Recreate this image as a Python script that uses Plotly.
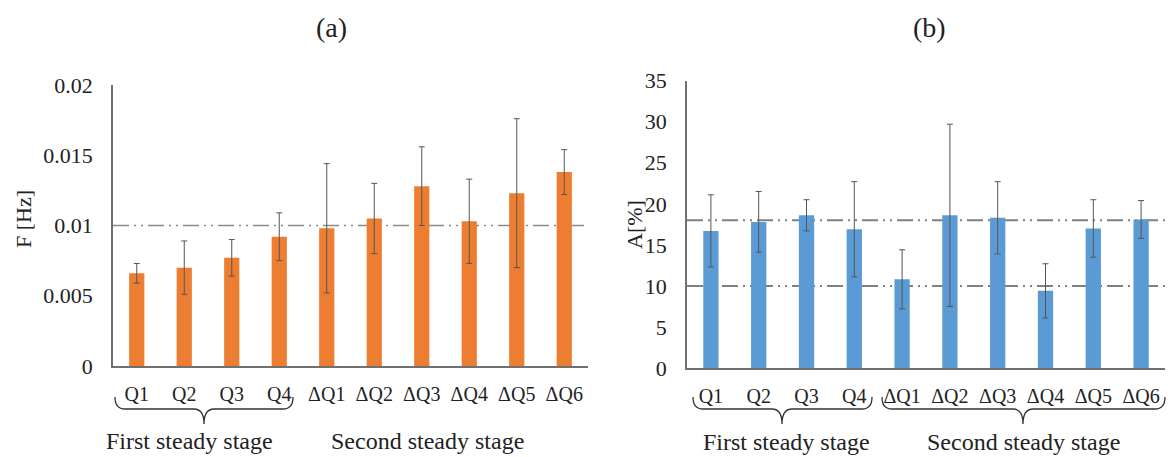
import plotly.graph_objects as go

W, H = 1168, 457

categories = ["Q1", "Q2", "Q3", "Q4", "ΔQ1", "ΔQ2", "ΔQ3", "ΔQ4", "ΔQ5", "ΔQ6"]

# (a) frequency F [Hz]
freq_values = [0.0066, 0.0070, 0.0077, 0.0092, 0.0098, 0.0105, 0.0128, 0.0103, 0.0123, 0.0138]
freq_errors = [0.0007, 0.0019, 0.0013, 0.0017, 0.0046, 0.0025, 0.0028, 0.0030, 0.0053, 0.0016]
freq_ref = [0.01]
freq_ticks = [0, 0.005, 0.01, 0.015, 0.02]
freq_ticktext = ["0", "0.005", "0.01", "0.015", "0.02"]

# (b) amplitude A [%]
amp_values = [16.7, 17.8, 18.6, 16.9, 10.8, 18.6, 18.3, 9.4, 17.0, 18.1]
amp_errors = [4.4, 3.7, 1.9, 5.8, 3.6, 11.1, 4.4, 3.3, 3.5, 2.3]
amp_ref = [18, 10]
amp_ticks = [0, 5, 10, 15, 20, 25, 30, 35]

stage_labels = ["First steady stage", "Second steady stage"]

FONT = "Liberation Serif, Times New Roman, serif"
TXT = "#222222"
AXC = "#707070"
ORANGE = "#ED7D31"
BLUE = "#5B9BD5"
ERRC = "#555555"


def px(x):
    return x / W


def py(y):
    return 1 - y / H


fig = go.Figure()

fig.add_trace(go.Bar(
    x=categories, y=freq_values, marker_color=ORANGE, marker_line_width=0, xaxis="x", yaxis="y",
    error_y=dict(type="data", array=freq_errors, visible=True, color=ERRC, thickness=1, width=3),
    showlegend=False,
))
fig.add_trace(go.Bar(
    x=categories, y=amp_values, marker_color=BLUE, marker_line_width=0, xaxis="x2", yaxis="y2",
    error_y=dict(type="data", array=amp_errors, visible=True, color=ERRC, thickness=1, width=3),
    showlegend=False,
))

dash = "16px,5px,2px,5px,2px,5px"
for v in freq_ref:
    fig.add_shape(type="line", xref="x domain", yref="y", x0=0, x1=1, y0=v, y1=v,
                  line=dict(color="#8a8a8a", width=1.5, dash=dash), layer="below")
for v in amp_ref:
    fig.add_shape(type="line", xref="x2 domain", yref="y2", x0=0, x1=1, y0=v, y1=v,
                  line=dict(color="#808080", width=2, dash=dash), layer="below")

# braces (pixel positions converted to paper coords)
def brace(x0, x1, xt, ytop=397, ymid=409, ytip=424):
    r = 10
    pts = (f"M {px(x0)},{py(ytop)} Q {px(x0)},{py(ymid)} {px(x0 + r)},{py(ymid)} "
           f"L {px(xt - r)},{py(ymid)} Q {px(xt)},{py(ymid)} {px(xt)},{py(ytip)} "
           f"Q {px(xt)},{py(ymid)} {px(xt + r)},{py(ymid)} "
           f"L {px(x1 - r)},{py(ymid)} Q {px(x1)},{py(ymid)} {px(x1)},{py(ytop)}")
    fig.add_shape(type="path", xref="paper", yref="paper", path=pts,
                  line=dict(color="#333333", width=1.3))

brace(115, 293, 204)
brace(693, 872, 782)
brace(882, 1165, 1023)

annots = [
    dict(text="(a)", x=px(331), y=py(27), size=28),
    dict(text="(b)", x=px(929), y=py(28), size=28),
    dict(text=stage_labels[0], x=px(189), y=py(441), size=24),
    dict(text=stage_labels[1], x=px(427), y=py(441), size=24),
    dict(text=stage_labels[0], x=px(787), y=py(442), size=24),
    dict(text=stage_labels[1], x=px(1023), y=py(442), size=24),
]
for a in annots:
    fig.add_annotation(text=a["text"], x=a["x"], y=a["y"], xref="paper", yref="paper",
                       xanchor="center", yanchor="middle", showarrow=False,
                       font=dict(family=FONT, size=a["size"], color=TXT))

fig.add_annotation(text="F [Hz]", x=px(23), y=py(219), xref="paper", yref="paper",
                   textangle=-90, showarrow=False, xanchor="center", yanchor="middle",
                   font=dict(family=FONT, size=22, color=TXT))
fig.add_annotation(text="A[%]", x=px(634), y=py(225), xref="paper", yref="paper",
                   textangle=-90, showarrow=False, xanchor="center", yanchor="middle",
                   font=dict(family=FONT, size=22, color=TXT))

xcommon = dict(type="category", showgrid=False, showline=True, linecolor=AXC, linewidth=1.5,
               ticks="", tickfont=dict(family=FONT, size=20, color=TXT),
               ticklabelstandoff=9, zeroline=False, fixedrange=True, automargin=False)
ycommon = dict(showgrid=False, showline=True, linecolor=AXC, linewidth=1.5, ticks="",
               tickfont=dict(family=FONT, size=22, color=TXT), ticklabelstandoff=14,
               zeroline=False, automargin=False)

fig.update_layout(
    template="none",
    width=W, height=H,
    margin=dict(l=0, r=0, t=0, b=0, pad=0),
    paper_bgcolor="white", plot_bgcolor="white",
    font=dict(family=FONT, color=TXT),
    bargap=0.68,
    xaxis=dict(domain=[px(113), px(588)], anchor="y", **xcommon),
    yaxis=dict(domain=[1 - 366 / H, 1 - 85 / H], anchor="x", range=[0, 0.02],
               tickvals=freq_ticks, ticktext=freq_ticktext, **ycommon),
    xaxis2=dict(domain=[px(687), px(1165)], anchor="y2", **xcommon),
    yaxis2=dict(domain=[1 - 368 / H, 1 - 80.7 / H], anchor="x2", range=[0, 35],
                tickvals=amp_ticks, **ycommon),
)

fig.write_html("out.html", config={"displayModeBar": False},
               post_script="document.body.style.margin='0';document.body.style.overflow='hidden';")
